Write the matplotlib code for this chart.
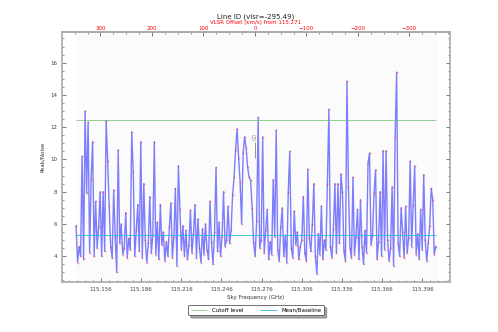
import numpy as np
import matplotlib
matplotlib.use("Agg")
import matplotlib.pyplot as plt
from matplotlib.ticker import AutoMinorLocator, FormatStrFormatter

# Spectrum (peak/noise per channel)
freq_start = 115.1375
freq_end = 115.4060
peak_noise = [
    5.9, 3.6, 4.6, 4.0, 10.2, 3.8, 13.0, 7.9, 12.3, 4.2,
    8.8, 11.1, 4.0, 7.4, 4.5, 5.8, 8.0, 4.0, 8.0, 4.3,
    12.4, 9.9, 7.1, 4.6, 3.9, 8.1, 5.2, 3.0, 10.6, 4.8,
    6.0, 4.1, 4.5, 6.7, 3.9, 5.1, 4.4, 11.7, 9.2, 4.0,
    5.6, 7.2, 4.3, 11.1, 3.9, 8.5, 5.0, 3.6, 4.8, 7.7,
    4.2, 5.3, 11.1, 4.1, 6.1, 3.8, 7.2, 4.7, 5.5, 3.7,
    4.9, 4.0, 5.8, 7.3, 3.9, 5.2, 8.2, 3.4, 9.6, 6.9,
    4.4, 5.9, 4.0, 5.6, 3.8, 4.7, 6.85, 4.2, 5.4, 7.2,
    3.9, 6.3, 4.5, 3.6, 5.7, 4.1, 6.0, 4.4, 3.8, 7.4,
    4.9, 3.5, 5.5, 9.5, 4.3, 6.1, 4.0, 5.2, 8.0, 4.6,
    5.0, 7.1, 4.8, 5.6, 7.8, 8.9, 10.6, 11.9, 10.1, 8.6,
    6.0, 10.4, 11.4, 10.7, 9.5, 8.9, 8.7, 7.0, 4.8, 4.0,
    6.2, 12.6, 4.5, 5.0, 11.4, 4.2, 5.6, 6.9, 3.8, 4.9,
    4.1, 8.75, 5.2, 11.8, 4.4, 3.7, 5.8, 7.0, 4.0, 5.3,
    3.6, 8.0, 10.5, 4.5, 3.9, 6.8, 4.7, 5.5, 3.8, 4.6,
    5.0, 7.7, 4.2, 3.7, 9.4, 5.1, 4.3, 6.0, 8.5, 4.0,
    2.9, 5.4, 4.1, 7.1, 3.8, 5.0, 4.4, 8.5, 13.1, 4.6,
    3.9, 5.7, 8.5, 4.2, 8.5, 4.8, 9.1, 8.0, 4.3, 3.7,
    14.85, 8.3, 4.5, 3.9, 8.9, 4.1, 5.2, 6.9, 3.8, 7.5,
    4.6, 3.5, 5.6, 4.2, 9.8, 10.4, 4.7, 5.3, 7.9, 9.35,
    3.8, 4.9, 8.0, 4.0, 10.55, 4.4, 10.55, 5.0, 3.7, 4.5,
    8.3, 3.4, 11.4, 15.4, 4.8, 4.0, 7.0, 5.5, 3.9, 7.1,
    4.2, 5.1, 9.9, 4.6, 7.2, 9.6, 4.1, 5.4, 3.8, 6.9,
    4.4, 9.05, 5.0, 3.7, 4.8, 5.9, 8.2, 7.5, 4.1, 4.6,
]
cutoff_level = 12.43
mean_baseline = 5.32
rest_freq = 115.271
vlsr = -295.49
line_label = "CO"
vel_ticks = [300, 200, 100, 0, -100, -200, -300]
freq_ticks = [115.156, 115.186, 115.216, 115.246, 115.276,
              115.306, 115.336, 115.366, 115.396]

C_KMS = 299792.458
freqs = np.linspace(freq_start, freq_end, len(peak_noise))

fig = plt.figure(figsize=(4.98, 3.32), dpi=100)
ax = fig.add_axes([0.1245, 0.1506, 0.779, 0.753])

ax.axvspan(freq_start, freq_end, color="#fbfbfb", zorder=0)
ax.plot(freqs, peak_noise, color="blue", lw=1.0, alpha=0.5, zorder=2)
ax.plot(freqs, peak_noise, ls="none", marker="o", ms=1.4, mew=0,
        color="red", alpha=0.35, zorder=3)
ax.hlines(cutoff_level, freq_start, freq_end, color="#66bb66", lw=0.7,
          alpha=0.7, label="Cutoff level", zorder=4)
ax.hlines(mean_baseline, freq_start, freq_end, color="#33bbdd", lw=0.7,
          alpha=0.9, label="Mean/Baseline", zorder=4)

# line identification marker
ax.vlines(rest_freq, 10.1, 11.1, color="gray", lw=0.6, zorder=5)
ax.text(rest_freq, 11.45, line_label, rotation=90, fontsize=3.5,
        color="gray", ha="center", va="center", zorder=5)

ax.set_xlim(115.127, 115.4166)
ax.set_ylim(2.4, 17.9)
ax.set_xticks(freq_ticks)
ax.xaxis.set_major_formatter(FormatStrFormatter("%.3f"))
ax.set_yticks([4, 6, 8, 10, 12, 14, 16])
ax.xaxis.set_minor_locator(AutoMinorLocator(5))
ax.yaxis.set_minor_locator(AutoMinorLocator(4))
ax.tick_params(which="both", direction="in", labelsize=4, colors="#444444",
               top=False, right=True)
ax.tick_params(which="major", length=3, width=0.5)
ax.tick_params(which="minor", length=1.5, width=0.4)
ax.set_xlabel("Sky Frequency (GHz)", fontsize=4, color="#333333", labelpad=2)
ax.set_ylabel("Peak/Noise", fontsize=4, color="#333333", labelpad=4)
for sp in ax.spines.values():
    sp.set_color("#aaaaaa")
    sp.set_linewidth(1.2)

sec = ax.secondary_xaxis(
    "top",
    functions=(lambda f: C_KMS * (rest_freq - f) / rest_freq,
               lambda v: rest_freq * (1 - v / C_KMS)))
sec.set_xticks(vel_ticks)
sec.xaxis.set_minor_locator(AutoMinorLocator(4))
sec.tick_params(which="both", direction="in", labelsize=4, labelcolor="red",
                color="#444444", pad=1)
sec.tick_params(which="major", length=3, width=0.5)
sec.tick_params(which="minor", length=1.5, width=0.4)
sec.set_xlabel(f"VLSR Offset (km/s) from {rest_freq}", fontsize=4,
               color="red", labelpad=1)
sec.spines["top"].set_color("#aaaaaa")
sec.spines["top"].set_linewidth(1.2)

fig.text(0.514, 0.949, f"Line ID (vlsr={vlsr})", fontsize=5,
         ha="center", va="center", color="#222222")

leg = ax.legend(loc="center", bbox_to_anchor=(0.514, 0.066),
                bbox_transform=fig.transFigure, ncol=2, fontsize=4,
                frameon=True, shadow=True, handlelength=3, columnspacing=3,
                borderpad=0.5)
leg.get_frame().set_edgecolor("#555555")
leg.get_frame().set_linewidth(0.6)

fig.savefig("out.png", dpi=100)
